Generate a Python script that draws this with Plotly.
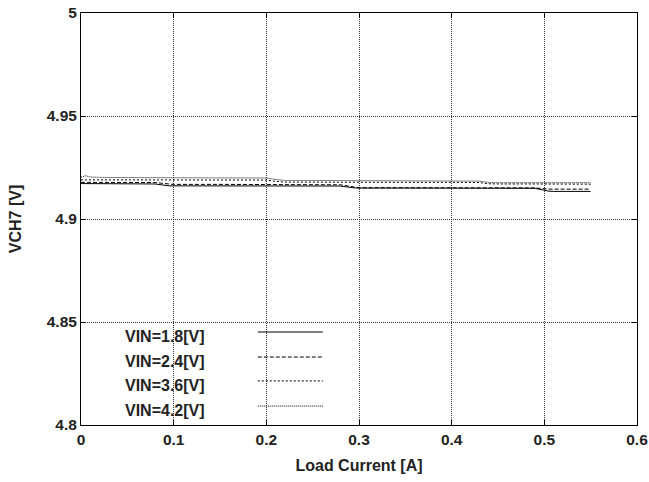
import plotly.graph_objects as go

# ---- data ----
current = [0, 0.005, 0.01, 0.02, 0.05, 0.08, 0.095, 0.1, 0.15, 0.2, 0.21, 0.22,
           0.25, 0.28, 0.295, 0.3, 0.35, 0.4, 0.43, 0.44, 0.45, 0.49, 0.505, 0.51, 0.55]
v_18 = [4.9172, 4.9172, 4.9172, 4.9172, 4.9171, 4.9170, 4.9161, 4.9161, 4.9161, 4.9161, 4.9161, 4.9161,
        4.9161, 4.9160, 4.9151, 4.9150, 4.9150, 4.9150, 4.9150, 4.9150, 4.9150, 4.9149, 4.9135, 4.9134, 4.9134]
v_24 = [4.9178, 4.9178, 4.9178, 4.9178, 4.9178, 4.9177, 4.9170, 4.9168, 4.9168, 4.9168, 4.9168, 4.9168,
        4.9167, 4.9166, 4.9155, 4.9152, 4.9152, 4.9152, 4.9152, 4.9152, 4.9151, 4.9151, 4.9145, 4.9145, 4.9145]
v_36 = [4.9190, 4.9191, 4.9190, 4.9190, 4.9190, 4.9190, 4.9190, 4.9189, 4.9189, 4.9189, 4.9183, 4.9179,
        4.9179, 4.9178, 4.9178, 4.9178, 4.9178, 4.9178, 4.9177, 4.9171, 4.9170, 4.9170, 4.9170, 4.9170, 4.9169]
v_42 = [4.9203, 4.9210, 4.9204, 4.9202, 4.9201, 4.9201, 4.9201, 4.9201, 4.9200, 4.9199, 4.9192, 4.9187,
        4.9187, 4.9186, 4.9186, 4.9186, 4.9185, 4.9185, 4.9184, 4.9177, 4.9176, 4.9176, 4.9176, 4.9176, 4.9176]

series_names = ["VIN=1.8[V]", "VIN=2.4[V]", "VIN=3.6[V]", "VIN=4.2[V]"]
series_values = [v_18, v_24, v_36, v_42]
series_dash = ["solid", "4px,2px", "2px,2px", "1px,1px"]

x_ticks = [0, 0.1, 0.2, 0.3, 0.4, 0.5, 0.6]
x_ticklabels = ["0", "0.1", "0.2", "0.3", "0.4", "0.5", "0.6"]
y_ticks = [4.8, 4.85, 4.9, 4.95, 5.0]
y_ticklabels = ["4.8", "4.85", "4.9", "4.95", "5"]

FONT = "Liberation Sans, Arial, sans-serif"

fig = go.Figure()
for name, vals, dash in zip(series_names, series_values, series_dash):
    fig.add_trace(go.Scatter(x=current, y=vals, mode="lines", name=name,
                             line=dict(color="black", width=1, dash=dash),
                             showlegend=False))

# custom legend (text left, line sample right) on a white panel
shapes = [dict(type="rect", xref="paper", yref="paper", x0=0.025, x1=0.462, y0=0.002, y1=0.255,
               fillcolor="white", line=dict(width=0), layer="between")]
annotations = []
text_y = [0.2136, 0.155, 0.097, 0.036]
line_y = [0.2257, 0.165, 0.107, 0.046]
for name, dash, ty, ly in zip(series_names, series_dash, text_y, line_y):
    annotations.append(dict(xref="paper", yref="paper", x=0.0755, y=ty, text="<b>%s</b>" % name,
                            showarrow=False, xanchor="left", yanchor="middle",
                            font=dict(family=FONT, size=16, color="#222")))
    shapes.append(dict(type="line", xref="paper", yref="paper", x0=0.318, x1=0.435, y0=ly, y1=ly,
                       line=dict(color="black", width=1, dash=dash), layer="above"))

axis_common = dict(showline=True, linecolor="black", linewidth=1, mirror="allticks",
                   ticks="inside", ticklen=5, tickcolor="black",
                   showgrid=True, gridcolor="#333", gridwidth=1, griddash="1px,1px",
                   zeroline=False, automargin=False,
                   tickfont=dict(family=FONT, size=15.5, color="#222"))

fig.update_layout(
    width=649, height=482,
    margin=dict(l=81, r=12, t=13, b=57),
    paper_bgcolor="white", plot_bgcolor="white",
    xaxis=dict(range=[0, 0.6], tickvals=x_ticks,
               ticktext=["<b>%s</b>" % t for t in x_ticklabels],
               title=dict(text="<b>Load Current [A]</b>", standoff=13,
                          font=dict(family=FONT, size=16, color="#222")),
               **axis_common),
    yaxis=dict(range=[4.8, 5.0], tickvals=y_ticks,
               ticktext=["<b>%s</b>" % t for t in y_ticklabels],
               title=dict(text="<b>VCH7 [V]</b>", standoff=21,
                          font=dict(family=FONT, size=16, color="#222")),
               **axis_common),
    shapes=shapes,
    annotations=annotations,
)

fig.write_html("out.html", config={"displayModeBar": False},
               post_script="document.body.style.margin='0';document.body.style.overflow='hidden';")
